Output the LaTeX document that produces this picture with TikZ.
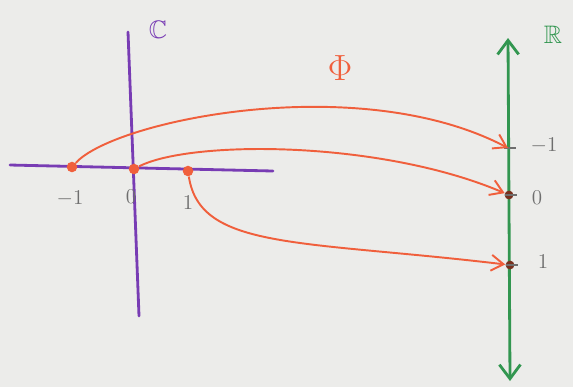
\documentclass[tikz,border=0pt]{standalone}
\usepackage{amssymb}
\usetikzlibrary{arrows.meta}
\definecolor{paper}{RGB}{236,236,234}
\definecolor{lila}{RGB}{120,60,180}
\definecolor{gruen}{RGB}{50,150,80}
\definecolor{orang}{RGB}{240,95,60}
\definecolor{bleistift}{RGB}{110,110,110}
\begin{document}
\begin{tikzpicture}[x=0.02cm, y=-0.02cm,
  achse/.style={line width=1.6pt, line cap=round},
  pkt/.style={circle, fill=orang, inner sep=0pt, minimum size=6pt},
  ziel/.style={circle, fill=orang!50!black, inner sep=0pt, minimum size=5pt},
  marke/.style={text=bleistift, font=\large},
  pfeil/.style={draw=orang, line width=1.1pt, -{Straight Barb[length=7pt, width=9pt]}},
]
  \fill[paper] (0,0) rectangle (573,387);
  \useasboundingbox (0,0) rectangle (573,387);

  % komplexe Ebene
  \draw[achse, lila] (10,165) -- (273,171);
  \draw[achse, lila] (128,32) -- (139,316);
  \node[text=lila, font=\Large] (C) at (158,30) {$\mathbb{C}$};

  \node[pkt] (cm) at (72,167) {};
  \node[pkt] (c0) at (134,169) {};
  \node[pkt] (cp) at (188,171) {};
  \node[marke] at (70,199) {$-1$};
  \node[marke] at (131,197) {$0$};
  \node[marke] at (188,203) {$1$};

  % reelle Achse
  \draw[achse, gruen, {Straight Barb[length=8pt, width=12pt]}-{Straight Barb[length=8pt, width=12pt]}]
        (508,38) -- (510,381);
  \node[text=gruen, font=\Large] (R) at (553,35) {$\mathbb{R}$};

  \coordinate (rm) at (508,148);
  \node[ziel] (r0) at (509,195) {};
  \node[ziel] (rp) at (510,265) {};
  \draw[bleistift, line width=0.8pt] (504,148) -- (516,148);
  \draw[bleistift, line width=0.8pt] (505,195) -- (517,195);
  \draw[bleistift, line width=0.8pt] (506,265) -- (518,265);
  \node[marke] at (544,146) {$-1$};
  \node[marke] at (537,198) {$0$};
  \node[marke] at (543,262) {$1$};

  % die Abbildung
  \node[text=orang, font=\huge] (Phi) at (340,68) {$\Phi$};
  \draw[pfeil] (cm) .. controls (115,120) and (360,70) .. (rm);
  \draw[pfeil] (c0) .. controls (190,140) and (380,140) .. (r0);
  \draw[pfeil] (cp) .. controls (200,250) and (300,240) .. (rp);
\end{tikzpicture}
\end{document}
